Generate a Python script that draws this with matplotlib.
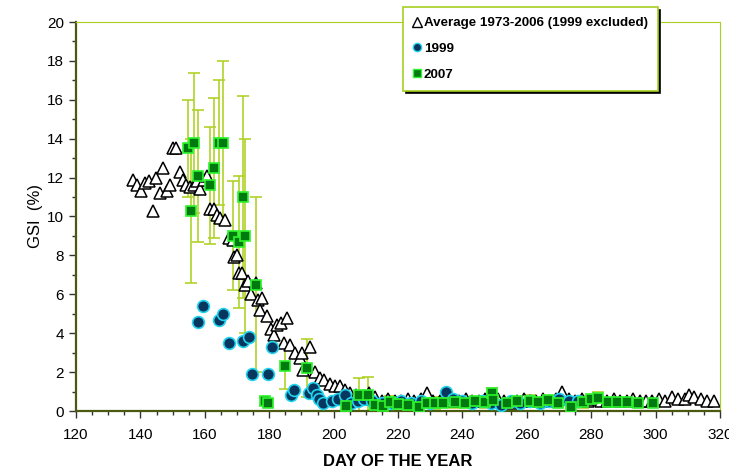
import matplotlib.pyplot as plt
from matplotlib.lines import Line2D
from matplotlib.ticker import MultipleLocator

# Average 1973-2006 (1999 excluded)
avg_day = [137.7, 139, 140.2, 141.4, 142.7, 143.9, 144.8, 146.1, 147, 148.3, 149.2, 150.1, 151,
           152.3, 153.2, 154.2, 155.4, 156.6, 157.6, 158.5, 159.8, 160.7, 161.6, 162.9, 163.8,
           164.7, 166.3, 167.5, 168.8, 169.1, 170, 170.6, 171.6, 172.5, 173.4, 174.3, 175.9,
           176.5, 177.1, 177.8, 179.3, 180.6, 181.5, 182.4, 183.7, 184.6, 185.5, 186.5, 188,
           189.6, 190.2, 190.5, 192.7, 194.2, 195.8, 197, 198.9, 200.4, 202, 203.5,
           205, 207, 209, 211, 213, 215, 217, 219, 221, 223, 225, 227, 229, 231, 233, 235,
           237, 239, 241, 243, 245, 247, 249, 251, 253, 255, 257, 259, 261, 263, 265, 267,
           269, 271, 273, 275, 277, 279, 281, 283, 285, 287, 289, 291, 293, 295, 297, 299,
           301, 303, 305, 307, 309, 310.5, 312, 314, 316, 318]
avg_gsi = [11.9, 11.6, 11.3, 11.7, 11.8, 10.3, 12.0, 11.2, 12.5, 11.3, 11.6, 13.5, 13.5,
           12.3, 11.9, 11.6, 11.5, 11.6, 11.8, 11.4, 11.9, 12.1, 10.4, 10.4, 10.1,
           9.9, 9.8, 8.9, 8.8, 7.9, 8.0, 7.1, 7.1, 6.5, 6.7, 6.0, 6.6,
           5.7, 5.2, 5.8, 4.9, 4.2, 3.9, 4.4, 4.5, 3.5, 4.8, 3.4, 3.0,
           2.7, 3.0, 2.1, 3.3, 2.0, 1.7, 1.6, 1.4, 1.3, 1.3, 1.1,
           0.9, 0.8, 0.6, 0.9, 0.7, 0.5, 0.6, 0.5, 0.5, 0.6, 0.5, 0.6, 0.9, 0.5, 0.5, 0.6,
           0.5, 0.5, 0.6, 0.5, 0.5, 0.6, 0.5, 0.6, 0.5, 0.4, 0.5, 0.6, 0.5, 0.5, 0.6, 0.5,
           0.6, 1.0, 0.6, 0.5, 0.6, 0.5, 0.6, 0.5, 0.5, 0.6, 0.5, 0.5, 0.6, 0.5, 0.5, 0.5,
           0.6, 0.5, 0.7, 0.6, 0.6, 0.8, 0.7, 0.6, 0.5, 0.5]

# 1999
y99_day = [157.9, 159.5, 164.4, 165.7, 167.5, 171.9, 173.7, 174.7, 179.6, 180.9, 186.8, 187.7,
           192.4, 193.6, 194.8, 195.5, 196.7, 199.5, 201.5, 203.5, 205.5, 207.5, 209.5, 212,
           215, 218, 221, 224, 227, 230, 234.9, 237, 240, 243, 246, 249, 252, 255, 258,
           261, 264, 267, 270, 273, 276]
y99_gsi = [4.6, 5.4, 4.7, 5.0, 3.5, 3.6, 3.8, 1.9, 1.9, 3.3, 0.8, 1.1,
           0.9, 1.2, 0.8, 0.6, 0.4, 0.5, 0.6, 0.8, 0.4, 0.5, 0.6, 0.5,
           0.4, 0.4, 0.5, 0.4, 0.5, 0.4, 1.0, 0.6, 0.5, 0.4, 0.5, 0.4, 0.3, 0.5, 0.4,
           0.5, 0.4, 0.5, 0.6, 0.5, 0.5]

# 2007 with error bars
y07_day = [154.8, 155.7, 156.6, 157.9, 161.6, 162.9, 164.4, 165.7, 168.8, 170.6, 171.9, 172.5,
           175.9, 178.7, 179.6, 184.9, 191.7, 203.8, 207.9, 210.7, 212.9, 215.3, 217.5, 220,
           223.1, 226.5, 229, 231.5, 234, 237.7, 240.8, 244, 247, 249.2, 249.5, 253.9, 257,
           261, 263.5, 266.5, 269.7, 273.7, 277.5, 280, 282, 285.2, 288, 291, 294.5, 299.2]
y07_gsi = [13.5, 10.3, 13.8, 12.1, 11.6, 12.5, 13.8, 13.8, 9.0, 8.7, 11.0, 9.0,
           6.5, 0.5, 0.4, 2.3, 2.2, 0.26, 0.8, 0.8, 0.3, 0.26, 0.46, 0.35,
           0.3, 0.2, 0.4, 0.4, 0.4, 0.46, 0.4, 0.5, 0.45, 0.9, 0.57, 0.4, 0.5,
           0.5, 0.46, 0.55, 0.4, 0.2, 0.46, 0.6, 0.67, 0.46, 0.46, 0.46, 0.4, 0.4]
y07_err = [2.5, 3.7, 3.6, 3.4, 3.0, 3.6, 3.2, 4.2, 2.8, 3.4, 5.2, 5.0,
           4.5, 0.2, 0.2, 1.15, 1.5, 0.2, 0.9, 0.95, 0.2, 0.2, 0.3, 0.2,
           0.2, 0.2, 0.2, 0.3, 0.2, 0.3, 0.2, 0.2, 0.3, 0.3, 0.2, 0.2, 0.2,
           0.3, 0.2, 0.2, 0.2, 0.2, 0.3, 0.2, 0.3, 0.2, 0.2, 0.2, 0.2, 0.2]

plt.rcParams['font.family'] = ['Liberation Sans', 'DejaVu Sans']

fig = plt.figure(figsize=(7.29, 4.69), dpi=100)
ax = fig.add_axes([76 / 729, 1 - 411 / 469, 644 / 729, 389 / 469])

bar_col = '#b0d22a'
ax.errorbar(y07_day, y07_gsi, yerr=y07_err, fmt='none', ecolor=bar_col, elinewidth=1.2,
            capsize=4, capthick=1.2, zorder=1)
ax.plot(avg_day, avg_gsi, ls='none', marker='^', ms=9, mfc='white', mec='black', mew=1.1,
        zorder=2)
ax.plot(y99_day, y99_gsi, ls='none', marker='o', ms=8.5, mfc='#07375e', mec='#22d4f0', mew=1.2,
        zorder=3)
ax.plot(y07_day, y07_gsi, ls='none', marker='s', ms=7.5, mfc='#007a10', mec='#2ef52e', mew=1.2,
        zorder=4)

ax.set_xlim(120, 320)
ax.set_ylim(0, 20)
ax.xaxis.set_major_locator(MultipleLocator(20))
ax.xaxis.set_minor_locator(MultipleLocator(5))
ax.yaxis.set_major_locator(MultipleLocator(2))
ax.yaxis.set_minor_locator(MultipleLocator(1))
ax.tick_params(which='both', direction='out', colors='#333333', labelsize=11, width=1)
ax.tick_params(which='major', length=5)
ax.tick_params(which='minor', length=3)
ax.tick_params(axis='x', pad=7)
for lab in ax.get_xticklabels() + ax.get_yticklabels():
    lab.set_color('black')

ax.spines['left'].set_color('#4a5a10')
ax.spines['bottom'].set_color('#4a5a10')
ax.spines['left'].set_linewidth(1.6)
ax.spines['bottom'].set_linewidth(1.6)
ax.spines['top'].set_color('#a8d020')
ax.spines['right'].set_color('#a8d020')

ax.set_xlabel('DAY OF THE YEAR', fontsize=12, fontweight='bold', labelpad=9)
ax.set_ylabel('GSI  (%)', fontsize=12, labelpad=3)

handles = [
    Line2D([], [], ls='none', marker='^', ms=6.5, mfc='white', mec='black', mew=1),
    Line2D([], [], ls='none', marker='o', ms=6, mfc='#07375e', mec='#22d4f0', mew=1),
    Line2D([], [], ls='none', marker='s', ms=5.5, mfc='#007a10', mec='#2ef52e', mew=1),
]
labels = ['Average 1973-2006 (1999 excluded)', '1999', '2007']
leg = fig.legend(handles, labels, loc='upper left', bbox_to_anchor=(403 / 729, 1 - 7 / 469),
                 frameon=True, fancybox=False, shadow={'color': 'black', 'alpha': 1},
                 handlelength=0.6, handletextpad=0.2, labelspacing=1.0, borderpad=0.75,
                 prop={'weight': 'bold', 'size': 9.6}, borderaxespad=0)
leg.get_frame().set_edgecolor('#a8d020')
leg.get_frame().set_linewidth(1.2)
leg.set_zorder(10)

fig.savefig('out.png', dpi=100)
